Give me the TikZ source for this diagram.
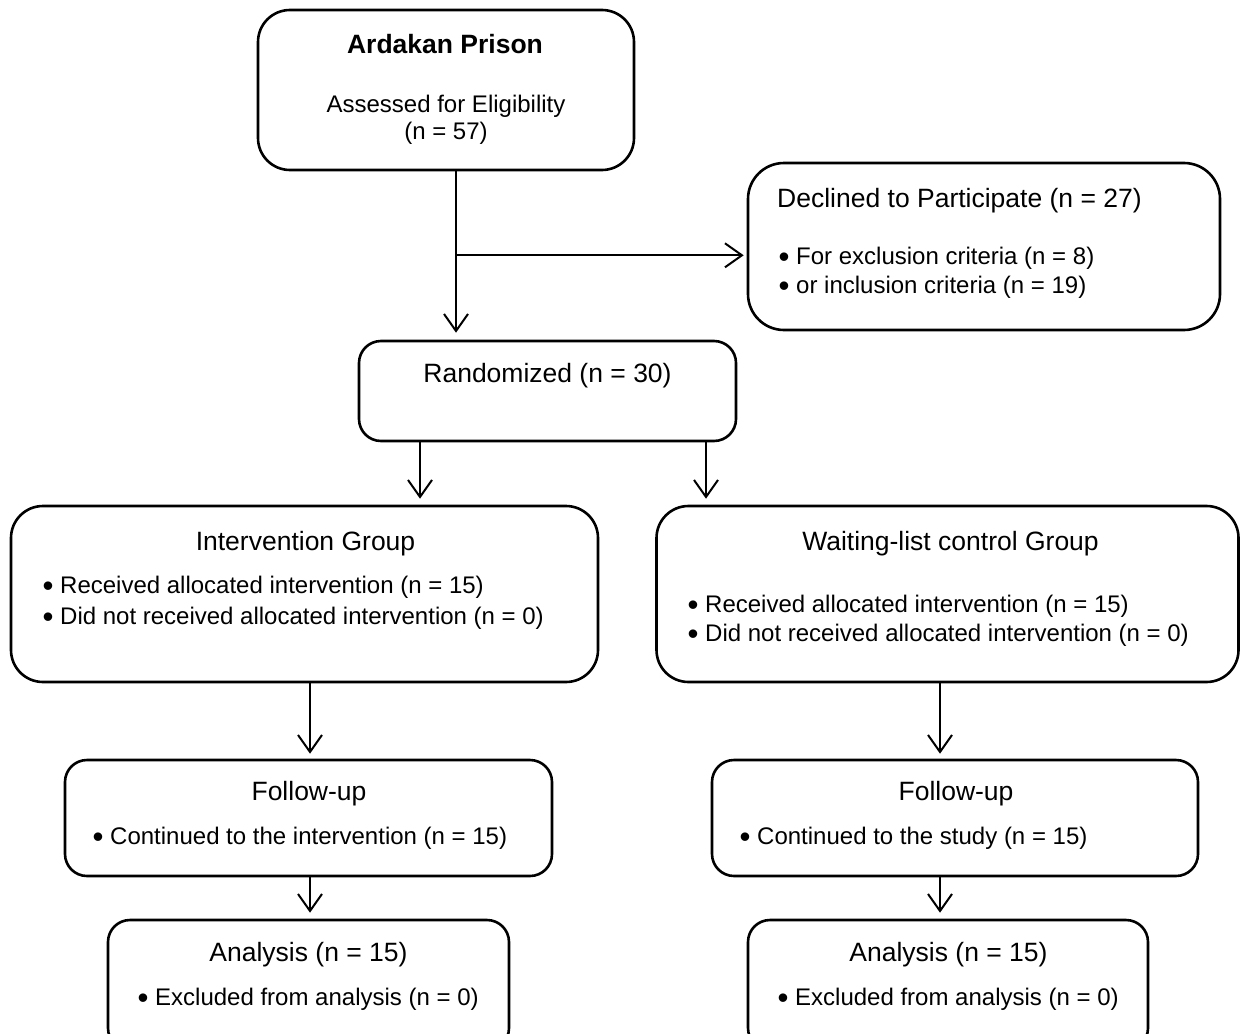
\documentclass[tikz,border=0pt]{standalone}
\usepackage{fontspec}
\setmainfont{Liberation Sans}
\usetikzlibrary{arrows.meta}
\newcommand{\bul}{\makebox[8.4pt]{\raisebox{-2.5pt}{\scalebox{1.3}{\textbullet}}}\hspace{8pt}}
\tikzset{
  box/.style={draw, line width=2.6pt, rounded corners=#1, inner sep=0pt, fill=white},
  box/.default=26pt,
  ttl/.style={inner sep=0pt, anchor=base, font=\fontsize{26.5pt}{30pt}\selectfont},
  txt/.style={inner sep=0pt, anchor=base west, font=\fontsize{24pt}{28pt}\selectfont},
  ctxt/.style={inner sep=0pt, anchor=base, font=\fontsize{24pt}{28pt}\selectfont},
  arr/.style={line width=2pt, -{Straight Barb[length=17pt,width=24pt]}}
}
\begin{document}
\begin{tikzpicture}[x=1pt,y=-1pt]
\useasboundingbox (0,0) rectangle (1241,1033);
\clip (0,0) rectangle (1241,1033);
% boxes
\node[box=32pt, minimum width=376pt, minimum height=160pt] (ard) at (446,90) {};
\node[box=36pt, minimum width=472pt, minimum height=167pt] (dec) at (984,246.5) {};
\node[box=22pt, minimum width=377pt, minimum height=100pt] (rnd) at (547.5,391) {};
\node[box=32pt, minimum width=587pt, minimum height=176pt] (int) at (304.5,594) {};
\node[box=32pt, minimum width=582pt, minimum height=176pt] (wai) at (947.5,594) {};
\node[box=22pt, minimum width=487pt, minimum height=116pt] (fl) at (308.5,818) {};
\node[box=22pt, minimum width=486pt, minimum height=116pt] (fr) at (955,818) {};
\node[box=22pt, minimum width=401pt, minimum height=130pt] (al) at (308.5,985) {};
\node[box=22pt, minimum width=400pt, minimum height=130pt] (ar) at (948,985) {};
% texts
\node[ttl, font=\fontsize{26.5pt}{30pt}\selectfont\bfseries] (t1) at (445,53.5) {Ardakan Prison};
\node[ctxt] (t2) at (446,112.6) {Assessed for Eligibility};
\node[ctxt] (t3) at (446,139.6) {(n = 57)};
\node[ttl, anchor=base west] (t4) at (777,207.5) {Declined to Participate (n = 27)};
\node[txt] (t5) at (779.6,264.6) {\bul For exclusion criteria (n = 8)};
\node[txt] (t6) at (779.6,293.6) {\bul or inclusion criteria (n = 19)};
\node[ttl] (t7) at (547.5,382.5) {Randomized (n = 30)};
\node[ttl] (t8) at (305.5,550.5) {Intervention Group};
\node[txt] (t9) at (43.6,593.6) {\bul Received allocated intervention (n = 15)};
\node[txt] (t10) at (43.6,624.6) {\bul Did not received allocated intervention (n = 0)};
\node[ttl] (t11) at (950.5,550.5) {Waiting-list control Group};
\node[txt] (t12) at (688.6,612.6) {\bul Received allocated intervention (n = 15)};
\node[txt] (t13) at (688.6,641.6) {\bul Did not received allocated intervention (n = 0)};
\node[ttl] (t14) at (309,800.5) {Follow-up};
\node[txt] (t15) at (93.6,844.6) {\bul Continued to the intervention (n = 15)};
\node[ttl] (t16) at (956,800.5) {Follow-up};
\node[txt] (t17) at (740.6,844.6) {\bul Continued to the study (n = 15)};
\node[ttl] (t18) at (308.5,961.5) {Analysis (n = 15)};
\node[txt] (t19) at (138.6,1005.6) {\bul Excluded from analysis (n = 0)};
\node[ttl] (t20) at (948.5,961.5) {Analysis (n = 15)};
\node[txt] (t21) at (778.6,1005.6) {\bul Excluded from analysis (n = 0)};
% connectors
\draw[arr, shorten >=7pt] ([xshift=10pt]ard.south) -- ([xshift=-91.5pt]rnd.north);
\coordinate (br) at ([xshift=10pt, yshift=-84pt]ard.south);
\draw[arr, shorten >=3pt] (br) -- (br -| dec.west);
\draw[arr, shorten >=6pt] ([xshift=-127.5pt]rnd.south) -- ([xshift=115.5pt]int.north);
\draw[arr, shorten >=6pt] ([xshift=158.5pt]rnd.south) -- ([xshift=-241.5pt]wai.north);
\draw[arr, shorten >=5pt] ([xshift=5.5pt]int.south) -- ([xshift=1.5pt]fl.north);
\draw[arr, shorten >=5pt] ([xshift=-7.5pt]wai.south) -- ([xshift=-15pt]fr.north);
\draw[arr, shorten >=6pt] ([xshift=1.5pt]fl.south) -- ([xshift=1.5pt]al.north);
\draw[arr, shorten >=6pt] ([xshift=-15pt]fr.south) -- ([xshift=-8pt]ar.north);
\end{tikzpicture}
\end{document}
